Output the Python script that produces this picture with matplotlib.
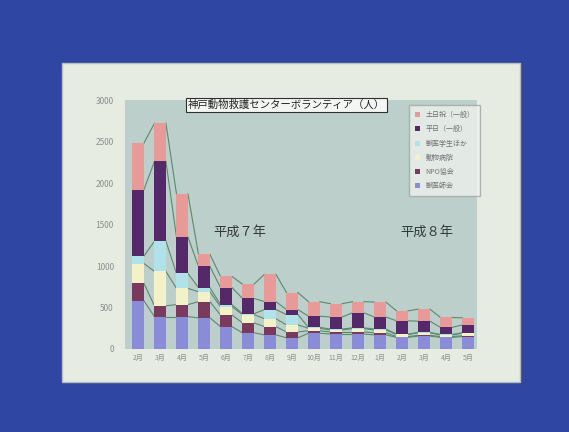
import numpy as np
import matplotlib
matplotlib.use("Agg")
import matplotlib.pyplot as plt
from matplotlib.patches import Rectangle

plt.rcParams['font.family'] = ['Noto Sans CJK JP', 'DejaVu Sans']

months = ['2月', '3月', '4月', '5月', '6月', '7月', '8月', '9月',
          '10月', '11月', '12月', '1月', '2月', '3月', '4月', '5月']

# stacked from bottom to top
blue = [580, 390, 390, 375, 270, 195, 170, 135, 190, 180, 180, 170, 140, 155, 140, 150]
maroon = [210, 130, 145, 195, 140, 120, 100, 70, 30, 25, 25, 25, 10, 10, 10, 10]
cream = [240, 415, 195, 120, 100, 100, 95, 85, 30, 25, 40, 35, 25, 30, 20, 30]
cyan = [90, 365, 180, 50, 25, 10, 110, 125, 10, 10, 10, 10, 5, 5, 5, 5]
purple = [800, 960, 440, 255, 205, 185, 95, 60, 135, 145, 180, 145, 160, 135, 85, 95]
pink = [560, 460, 520, 145, 135, 170, 330, 205, 175, 160, 135, 180, 120, 145, 120, 85]

series = [blue, maroon, cream, cyan, purple, pink]
names = ['獣医師会', 'NPO協会', '動物病院', '獣医学生ほか', '平日（一般）', '土日祝（一般）']
colors = ['#8a8cd8', '#7a3a5e', '#f4f0c8', '#b0e2ea', '#55286a', '#e89a98']

fig = plt.figure(figsize=(5.69, 4.32), dpi=100)
fig.patch.set_facecolor('#2f47a2')
# the slide
fig.patches.append(Rectangle((62 / 569, 50 / 432), 458 / 569, 319 / 432,
                             transform=fig.transFigure, facecolor='#e7ece3',
                             edgecolor='#b8bcc0', linewidth=1.0, zorder=-10))

ax = fig.add_axes([125 / 569, 83 / 432, 352 / 569, 249 / 432])
ax.set_facecolor('#bccfca')

x = np.arange(len(months))
w = 0.52
bottom = np.zeros(len(months))
handles = []
for vals, name, col in zip(series, names, colors):
    vals = np.array(vals)
    b = ax.bar(x, vals, w, bottom=bottom, color=col, label=name, zorder=3)
    handles.append(b)
    bottom = bottom + vals
    # series lines between bars
    for i in range(len(x) - 1):
        ax.plot([x[i] + w / 2, x[i + 1] - w / 2], [bottom[i], bottom[i + 1]],
                color='#5a8a6e', linewidth=0.8, zorder=2)

ax.set_xlim(-0.6, 15.4)
ax.set_ylim(0, 3000)
ax.set_yticks(range(0, 3001, 500))
ax.set_xticks(x)
ax.set_xticklabels(months)
ax.tick_params(axis='both', labelsize=5, colors='#8a8f8c', length=0)
ax.tick_params(axis='y', labelsize=6, pad=8)
for s in ax.spines.values():
    s.set_visible(False)

ax.text(4.6, 1400, '平成７年', fontsize=9.5, color='#303838', ha='center', va='center')
ax.text(13.1, 1400, '平成８年', fontsize=9.5, color='#303838', ha='center', va='center')

ax.text(6.75, 2940, '神戸動物救護センターボランティア（人）', fontsize=7.5, color='#202020',
        ha='center', va='center',
        bbox=dict(facecolor='#f4f6f4', edgecolor='#303030', linewidth=0.8, pad=1.5))

leg = ax.legend(handles[::-1], names[::-1], loc='upper left',
                bbox_to_anchor=((406 - 125) / 352, (349 - 102) / 249),
                fontsize=5, frameon=True, fancybox=False, handlelength=0.7,
                handleheight=0.7, labelspacing=0.9, borderpad=0.8)
leg.get_frame().set_facecolor('#eef1ee')
leg.get_frame().set_edgecolor('#a0a8a4')
for t in leg.get_texts():
    t.set_color('#707070')

fig.savefig('out.png', dpi=100, facecolor=fig.get_facecolor())
